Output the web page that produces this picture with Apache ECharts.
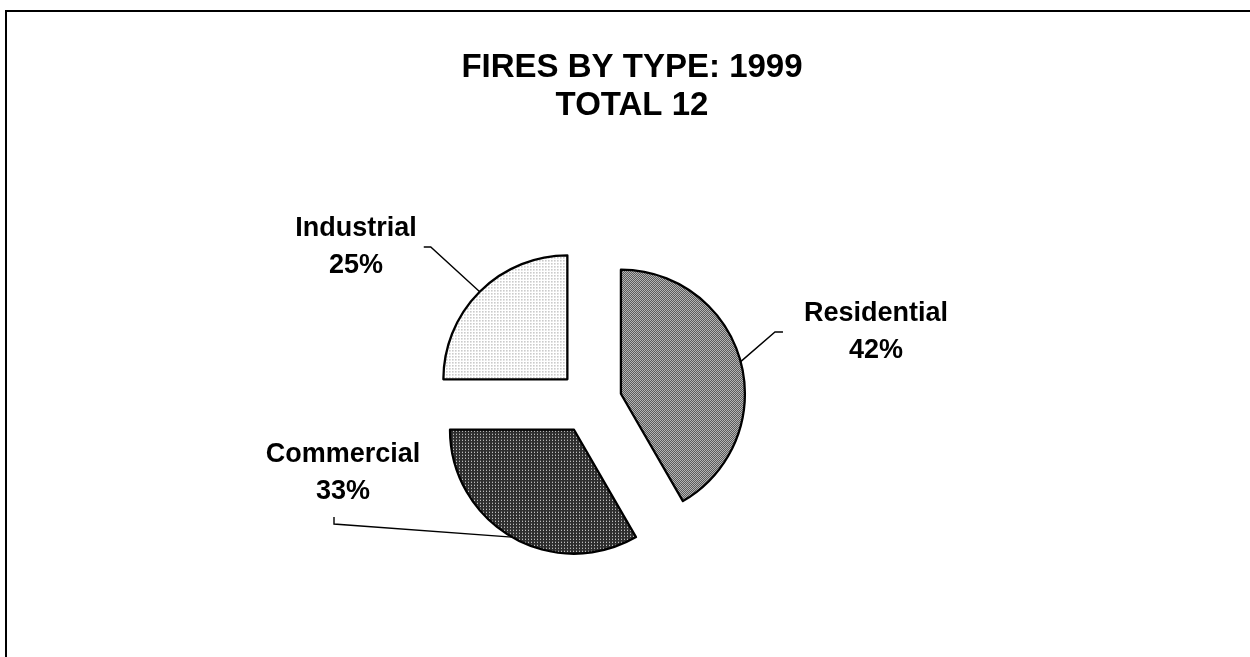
<!DOCTYPE html>
<html>
<head>
<meta charset="utf-8">
<script src="https://cdn.jsdelivr.net/npm/echarts@6/dist/echarts.min.js"></script>
<style>
html, body { margin: 0; padding: 0; background: #fff; }
#chart { width: 1250px; height: 657px; }
</style>
</head>
<body>
<div id="chart"></div>
<script>
// ---- data ----
const categories = ['Residential', 'Commercial', 'Industrial'];
const values = [5, 4, 3];
const titleLines = ['FIRES BY TYPE: 1999', 'TOTAL 12'];

// ---- layout / style (not data) ----
const pieCenter = [590, 402];
const pieRadius = 124;
const explode = 32;
// label block centre, which side of the label the leader line attaches to,
// gap between text and line end, length of the short end segment
const labelAnchor = {
  Residential: { x: 876, y: 332, side: 'left',   gap: 21, seg: 8, shift: 0 },
  Commercial:  { x: 343, y: 473, side: 'bottom', gap: 7,  seg: 7, shift: -9 },
  Industrial:  { x: 356, y: 247, side: 'right',  gap: 7,  seg: 7, shift: 0 }
};

function makePattern(size, bg, fg, pts) {
  const c = document.createElement('canvas');
  c.width = size; c.height = size;
  const g = c.getContext('2d');
  g.fillStyle = bg; g.fillRect(0, 0, size, size);
  g.fillStyle = fg;
  pts.forEach(p => g.fillRect(p[0], p[1], 1, 1));
  return { image: c, repeat: 'repeat' };
}
const patterns = {
  Residential: makePattern(2, '#eeeeee', '#222222', [[0, 0], [1, 1]]),
  Commercial: makePattern(3, '#2e2e2e', '#f0f0f0', [[1, 1]]),
  Industrial: makePattern(3, '#ffffff', '#7a7a7a', [[1, 1]])
};

const labelFont = {
  fontFamily: 'Liberation Sans',
  fontWeight: 'bold',
  fontSize: 27,
  lineHeight: 37,
  color: '#000'
};

const chart = echarts.init(document.getElementById('chart'), null, { renderer: 'canvas' });

const option = {
  animation: false,
  backgroundColor: '#ffffff',
  title: {
    text: titleLines.join('\n'),
    left: 627,
    top: 44,
    textAlign: 'center',
    textStyle: {
      fontFamily: 'Liberation Sans',
      fontWeight: 'bold',
      fontSize: 33,
      lineHeight: 38,
      color: '#000'
    }
  },
  graphic: [{
    type: 'rect',
    shape: { x: 6, y: 11, width: 1400, height: 800 },
    style: { fill: null, stroke: '#000', lineWidth: 2 },
    silent: true,
    z: 100
  }],
  series: [
    {
      // exploded slices
      type: 'pie',
      center: pieCenter,
      radius: pieRadius,
      startAngle: 90,
      clockwise: true,
      selectedMode: 'multiple',
      selectedOffset: explode,
      silent: true,
      itemStyle: { borderColor: '#000', borderWidth: 2.3 },
      label: { show: false },
      labelLine: { show: false },
      emphasis: { disabled: true },
      data: categories.map((name, i) => ({
        name: name,
        value: values[i],
        selected: true,
        itemStyle: { color: patterns[name] }
      }))
    },
    {
      // invisible ring at the exploded outer edge that carries labels and leader lines
      type: 'pie',
      center: pieCenter,
      radius: pieRadius + explode,
      startAngle: 90,
      clockwise: true,
      silent: true,
      percentPrecision: 0,
      avoidLabelOverlap: false,
      itemStyle: { color: 'rgba(0,0,0,0)', borderWidth: 0 },
      emphasis: { disabled: true },
      label: Object.assign({
        show: true,
        position: 'outside',
        formatter: '{b}\n{d}%'
      }, labelFont),
      labelLine: {
        show: true,
        length: 20,
        length2: 8,
        lineStyle: { color: '#000', width: 1.4 }
      },
      labelLayout: function (params) {
        const a = labelAnchor[categories[params.dataIndex]];
        const w = params.labelRect.width;
        const h = params.labelRect.height;
        const start = params.labelLinePoints[0];
        let end, bend;
        if (a.side === 'right') {
          end = [a.x + w / 2 + a.gap, a.y + a.shift];
          bend = [end[0] + a.seg, end[1]];
        } else if (a.side === 'left') {
          end = [a.x - w / 2 - a.gap, a.y + a.shift];
          bend = [end[0] - a.seg, end[1]];
        } else {
          end = [a.x + a.shift, a.y + h / 2 + a.gap];
          bend = [end[0], end[1] + a.seg];
        }
        return {
          x: a.x, y: a.y, align: 'center', verticalAlign: 'middle',
          labelLinePoints: [start, bend, end]
        };
      },
      data: categories.map((name, i) => ({ name: name, value: values[i] }))
    }
  ]
};
chart.setOption(option);
</script>
</body>
</html>
